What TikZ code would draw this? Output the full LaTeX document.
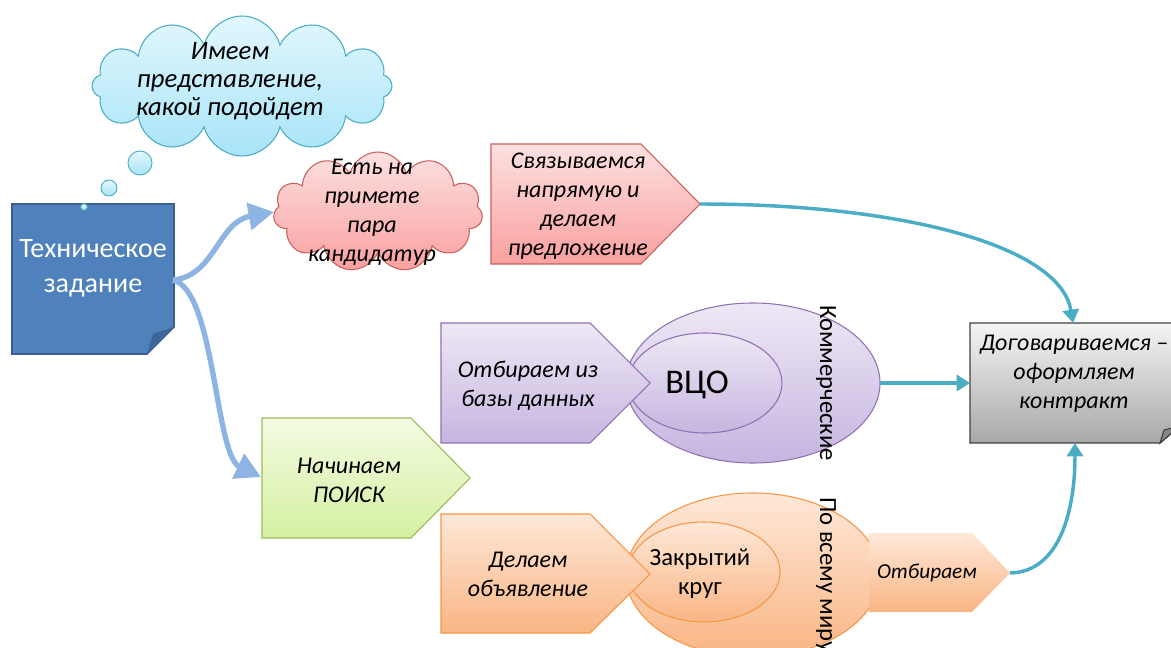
\documentclass[tikz,border=0pt]{standalone}
\usepackage{fontspec}
\setmainfont{Carlito}
\usetikzlibrary{shapes.symbols,shapes.geometric,arrows.meta}
\definecolor{noteblue}{HTML}{4F81BD}
\definecolor{noteborder}{HTML}{3A5F8F}
\definecolor{notefold}{HTML}{3D6698}
\definecolor{arrblue}{HTML}{8EB4E3}
\definecolor{teal}{HTML}{4BACC6}
\definecolor{redtop}{HTML}{FDE0E0}
\definecolor{redbot}{HTML}{F9A0A0}
\definecolor{redline}{HTML}{C9605C}
\definecolor{purtop}{HTML}{EEE8F5}
\definecolor{purbot}{HTML}{C6B5E0}
\definecolor{purline}{HTML}{8F72B3}
\definecolor{grntop}{HTML}{F3FBE3}
\definecolor{grnbot}{HTML}{D5F0A0}
\definecolor{grnline}{HTML}{9BBB59}
\definecolor{orgtop}{HTML}{FEE8D8}
\definecolor{orgbot}{HTML}{F9B584}
\definecolor{orgline}{HTML}{F79646}
\definecolor{gratop}{HTML}{F5F5F5}
\definecolor{grabot}{HTML}{A8A8A8}
\definecolor{graline}{HTML}{404040}
\definecolor{cyantop}{HTML}{E2F7FD}
\definecolor{cyanbot}{HTML}{A8E4F8}
\begin{document}
\begin{tikzpicture}[x=0.75pt,y=-0.75pt,
  txt/.style={align=center, inner sep=0pt, font=\fontsize{18pt}{21.75pt}\selectfont\itshape},
  uptxt/.style={align=center, inner sep=0pt, font=\fontsize{18.5pt}{21.75pt}\selectfont},
  redfill/.style={top color=redtop, bottom color=redbot, draw=redline, line width=0.8pt},
  purfill/.style={top color=purtop, bottom color=purbot, draw=purline, line width=0.8pt},
  grnfill/.style={top color=grntop, bottom color=grnbot, draw=grnline, line width=0.8pt},
  orgfill/.style={top color=orgtop, bottom color=orgbot, draw=orgline, line width=0.8pt},
  bluearrow/.style={draw=arrblue, line width=4pt, -{Triangle[length=19pt,width=20pt]}},
  tealarrow/.style={draw=teal, line width=2.6pt, -{Triangle[length=10pt,width=12pt]}},
  bubble/.style={circle, top color=cyantop, bottom color=cyanbot, draw=teal, line width=0.7pt, inner sep=0pt}]
\useasboundingbox (0,0) rectangle (1171,648);

% thought cloud
\node[cloud, cloud puffs=12, cloud ignores aspect, minimum width=225pt, minimum height=105pt,
      top color=cyantop, bottom color=cyanbot, draw=teal, line width=0.8pt] (tcloud) at (242,86) {};
\node[txt, font=\fontsize{20pt}{21pt}\selectfont\itshape] (ttext) at (230,81) {Имеем\\представление,\\какой подойдет};
\node[bubble, minimum size=18pt] (b1) at (140,163) {};
\node[bubble, minimum size=12pt] (b2) at (109,188) {};

% technical task note
\draw[fill=noteblue, draw=noteborder, line width=1.2pt]
  (12,204) -- (174,204) -- (174,327) -- (147,354) -- (12,354) -- cycle;
\fill[notefold] (147,354) -- (153,334) -- (174,327) -- cycle;
\node[bubble, minimum size=5pt] (b3) at (84,207) {};
\node[align=center, inner sep=0pt, text=white, font=\fontsize{21pt}{26.25pt}\selectfont] (tz) at (93,268) {Техническое\\задание};
\coordinate (tzout) at (173,280);

% red cloud
\node[cloud, cloud puffs=11, cloud ignores aspect, minimum width=157pt, minimum height=90pt, redfill] (rcloud) at (378,212) {};
\node[txt] (rtext) at (372,212) {Есть на\\примете\\пара\\кандидатур};

% red pentagon
\draw[redfill] (491,144) -- (641,144) -- (700,204) -- (641,264) -- (491,264) -- cycle;
\coordinate (redtip) at (700,204);
\node[txt] (rptext) at (578,206) {Связываемся\\напрямую и\\делаем\\предложение};

% purple group
\node[ellipse, minimum width=190.5pt, minimum height=120pt, purfill] (pout) at (753,383) {};
\node[ellipse, minimum width=115.5pt, minimum height=75pt, purfill] (pin) at (705,383) {};
\draw[purfill] (441,323) -- (590,323) -- (650,383) -- (590,443) -- (441,443) -- cycle;
\node[txt] (ptext) at (528,386) {Отбираем из\\базы данных};
\node[uptxt, font=\fontsize{26pt}{30pt}\selectfont] (vco) at (697,385) {ВЦО};
\node[uptxt, rotate=-90] (komm) at (826,383) {Коммерческие};

% green pentagon
\draw[grnfill] (262,418) -- (411,418) -- (470,478) -- (411,538) -- (262,538) -- cycle;
\coordinate (grnin) at (261,477);
\node[txt] (gtext) at (349,480) {Начинаем\\ПОИСК};

% orange group
\node[ellipse, minimum width=190.5pt, minimum height=123pt, orgfill] (oout) at (753,575) {};
\node[ellipse, minimum width=114pt, minimum height=75pt, orgfill] (oin) at (704,572) {};
\draw[orgfill] (441,514) -- (590,514) -- (650,574) -- (590,633) -- (441,633) -- cycle;
\node[txt] (otext) at (528,574) {Делаем\\объявление};
\node[uptxt] (krug) at (700,574) {Закрытий\\круг};
\node[uptxt, rotate=-90, anchor=west] (mir) at (826,497) {По всему миру};
\shade[top color=orgtop, bottom color=orgbot] (869,533) -- (972,533) -- (1010,573) -- (972,612) -- (869,612) -- cycle;
\coordinate (otbtip) at (1010,573);
\node[inner sep=0pt, font=\fontsize{16pt}{19pt}\selectfont\itshape] (otb) at (927,573) {Отбираем};

% gray box
\draw[top color=gratop, bottom color=grabot, draw=graline, line width=1pt]
  (970,323) -- (1180,323) -- (1180,426) -- (1160,443) -- (970,443) -- cycle;
\draw[fill=grabot!80!black, draw=graline, line width=0.8pt] (1160,443) -- (1164,430) -- (1180,426) -- cycle;
\node[txt] (gray) at (1074,374) {Договариваемся –\\оформляем\\контракт};
\coordinate (graytop) at (1073,323);
\coordinate (grayleft) at (970,383);
\coordinate (graybot) at (1075,443);
\coordinate (poutright) at (880,383);

% connectors
\draw[bluearrow] (tzout) .. controls (215,276) and (218,222) .. (rcloud.west);
\draw[bluearrow] (tzout) .. controls (215,290) and (215,455) .. (grnin);
\draw[tealarrow] (redtip) .. controls (900,204) and (1060,245) .. (graytop);
\draw[tealarrow] (poutright) -- (grayleft);
\draw[tealarrow] (otbtip) .. controls (1060,572) and (1075,510) .. (graybot);
\end{tikzpicture}
\end{document}
